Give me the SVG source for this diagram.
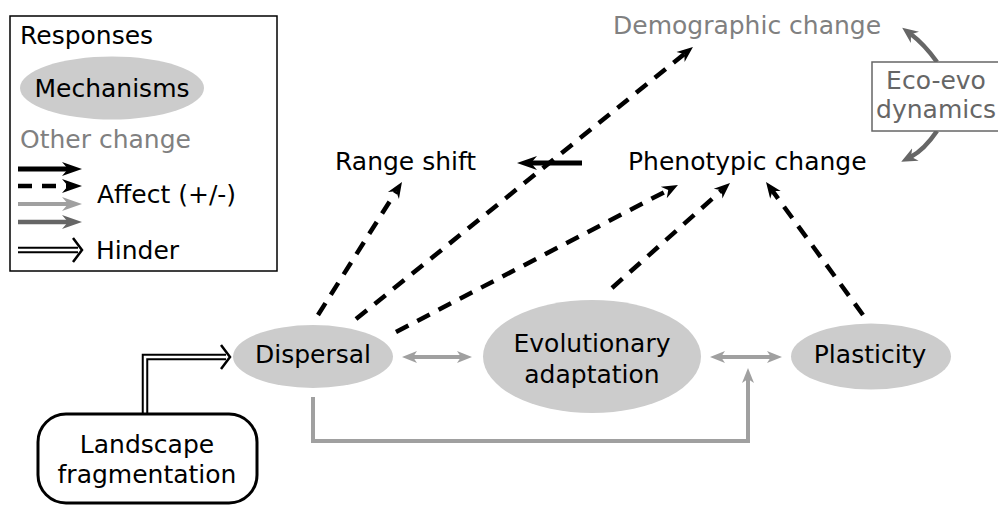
<svg xmlns="http://www.w3.org/2000/svg" width="998" height="505" viewBox="0 0 998 505">
<style>
text{font-family:"DejaVu Sans","Liberation Sans",sans-serif;font-size:25px;fill:#000}
.mid{text-anchor:middle}
.grey{fill:#808080}
.dgrey{fill:#666}
.ell{fill:#ccc;stroke:none}
.dash{fill:none;stroke:#000;stroke-width:4.5;stroke-dasharray:14,10}
.solid{fill:none;stroke:#000;stroke-width:5}
.lg{fill:none;stroke:#a0a0a0;stroke-width:4}
.dg{fill:none;stroke:#666;stroke-width:4.5}
.hin-o{fill:none;stroke:#000;stroke-width:6.5}
.hin-i{fill:none;stroke:#fff;stroke-width:2.5}
.chev{fill:none;stroke:#000;stroke-width:2.5}
</style>
<defs>
<marker id="ahL" markerUnits="userSpaceOnUse" viewBox="0 -8 21 16" markerWidth="21" markerHeight="16" refX="6" refY="0" orient="auto"><path d="M0,-7 L20,0 L0,7 L6,0 Z" fill="#000"/></marker>
<marker id="ahS" markerUnits="userSpaceOnUse" viewBox="0 -8 17 16" markerWidth="17" markerHeight="16" refX="5" refY="0" orient="auto"><path d="M0,-6.5 L16,0 L0,6.5 L5,0 Z" fill="#000"/></marker>
<marker id="agL" markerUnits="userSpaceOnUse" viewBox="0 -8 21 16" markerWidth="21" markerHeight="16" refX="6" refY="0" orient="auto-start-reverse"><path d="M0,-7 L20,0 L0,7 L6,0 Z" fill="#a0a0a0"/></marker>
<marker id="ag" markerUnits="userSpaceOnUse" viewBox="0 -7 16 14" markerWidth="16" markerHeight="14" refX="4" refY="0" orient="auto-start-reverse"><path d="M0,-6 L15,0 L0,6 L4,0 Z" fill="#a0a0a0"/></marker>
<marker id="adL" markerUnits="userSpaceOnUse" viewBox="0 -8 21 16" markerWidth="21" markerHeight="16" refX="6" refY="0" orient="auto"><path d="M0,-7 L20,0 L0,7 L6,0 Z" fill="#666"/></marker>
<marker id="ad" markerUnits="userSpaceOnUse" viewBox="0 -8 17 16" markerWidth="17" markerHeight="16" refX="5" refY="0" orient="auto"><path d="M0,-7 L16,0 L0,7 L5,0 Z" fill="#666"/></marker>
</defs>

<g id="legend">
<rect x="10" y="16" width="267" height="255" fill="#fff" stroke="#000" stroke-width="1.5"/>
<text x="20" y="44">Responses</text>
<ellipse class="ell" cx="112" cy="88" rx="92" ry="31.5"/>
<text class="mid" x="112" y="97">Mechanisms</text>
<text class="grey" x="20" y="148">Other change</text>
<path class="solid" d="M18,169 H68" marker-end="url(#ahL)"/>
<path class="dash" d="M18,186 H68" marker-end="url(#ahL)"/>
<path class="lg" d="M18,204 H68" marker-end="url(#agL)"/>
<path class="dg" d="M18,222 H68" marker-end="url(#adL)"/>
<text x="97" y="203">Affect (+/-)</text>
<path class="hin-o" d="M18,250 H78"/>
<path class="hin-i" d="M18,250 H78"/>
<path class="chev" d="M73,238 L82,250 L73,262"/>
<text x="96" y="259">Hinder</text>
</g>

<g id="connectors">
<path class="dash" d="M318,315 L396.1,191.3" marker-end="url(#ahS)"/>
<path class="dash" d="M356,319 L684.4,53.9" marker-end="url(#ahS)"/>
<path class="dash" d="M396,332 L668.2,190.1" marker-end="url(#ahS)"/>
<path class="dash" d="M612,288 L721.8,190.3" marker-end="url(#ahS)"/>
<path class="dash" d="M863,315 L772.5,190.9" marker-end="url(#ahS)"/>
<path class="solid" d="M582,163 H531" marker-end="url(#ahL)"/>
<path class="lg" d="M413,357 H461" marker-start="url(#ag)" marker-end="url(#ag)"/>
<path class="lg" d="M721,357 H771" marker-start="url(#ag)" marker-end="url(#ag)"/>
<path class="lg" stroke-width="5" d="M313,397 V441 H748 V379" marker-end="url(#ag)"/>
<path class="dg" d="M937,62 Q924,44 911,34.3" marker-end="url(#ad)"/>
<path class="dg" d="M937,131 Q924,150 911,156.7" marker-end="url(#ad)"/>
<path class="hin-o" d="M145,414 V357 H226"/>
<path class="hin-i" d="M145,414 V357 H226"/>
<path class="chev" d="M221,345 L230,357 L221,369"/>
</g>

<g id="range-shift"><text x="335" y="170">Range shift</text></g>
<g id="phenotypic-change"><text x="628" y="170">Phenotypic change</text></g>
<g id="demographic-change"><text class="grey" x="613" y="34">Demographic change</text></g>
<g id="eco-evo">
<rect x="872" y="62" width="130" height="69" fill="#fff" stroke="#666" stroke-width="1.5"/>
<text class="mid dgrey" x="936" y="89">Eco-evo</text>
<text class="mid dgrey" x="936" y="118">dynamics</text>
</g>
<g id="dispersal">
<ellipse class="ell" cx="313" cy="356.5" rx="80" ry="31.5"/>
<text class="mid" x="313" y="363">Dispersal</text>
</g>
<g id="evolutionary-adaptation">
<ellipse class="ell" cx="592" cy="356.5" rx="109" ry="56.5"/>
<text class="mid" x="592" y="352">Evolutionary</text>
<text class="mid" x="592" y="383">adaptation</text>
</g>
<g id="plasticity">
<ellipse class="ell" cx="871" cy="356.5" rx="80" ry="33"/>
<text class="mid" x="870" y="363">Plasticity</text>
</g>
<g id="landscape-fragmentation">
<rect x="38" y="414" width="219" height="89" rx="28" ry="28" fill="#fff" stroke="#000" stroke-width="3"/>
<text class="mid" x="147" y="453">Landscape</text>
<text class="mid" x="147" y="483">fragmentation</text>
</g>
</svg>
